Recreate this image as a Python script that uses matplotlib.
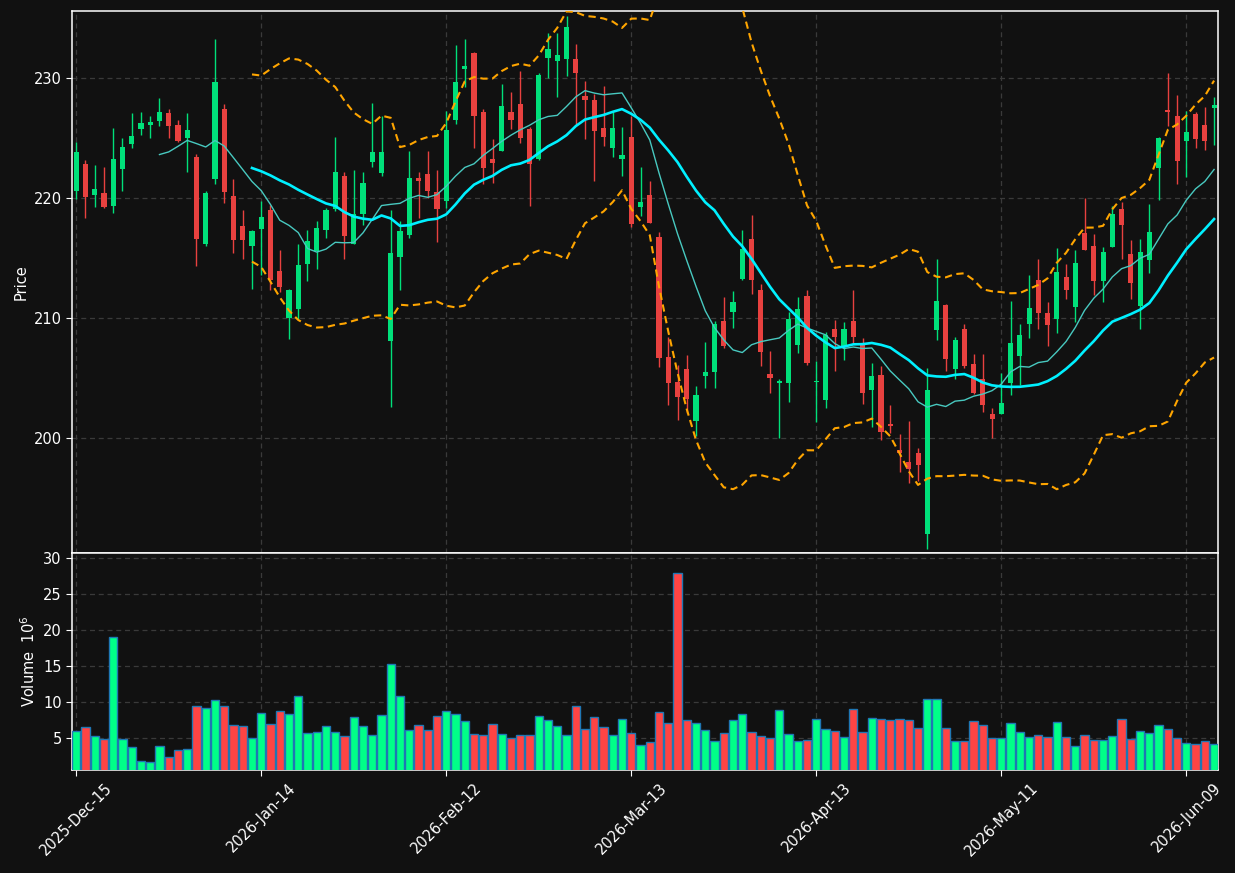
import pandas as pd
import numpy as np
import matplotlib
matplotlib.use("Agg")
import matplotlib.pyplot as plt

BG = "#111111"
UP_CANDLE = "#00e07a"
DOWN_CANDLE = "#e8413f"
UP_VOL = "#00ff88"
DOWN_VOL = "#ff4444"
VOL_EDGE = "#1f77b4"
GRID = "#3a3a3a"

# ── data (volumes in millions) ────────────────────────────────────────────────
opens = [
    220.55, 222.78, 220.23, 220.35, 219.30, 222.41, 224.43, 225.74, 226.03, 226.41,
    227.04, 226.03, 224.99, 223.36, 216.14, 221.57, 227.36, 220.12, 217.62, 215.97,
    217.39, 218.96, 213.86, 209.97, 210.72, 214.46, 215.54, 217.30, 219.04, 221.77,
    216.14, 218.61, 222.96, 222.06, 208.06, 215.01, 216.87, 221.62, 221.94, 220.43,
    219.71, 226.46, 230.72, 232.03, 227.13, 223.19, 223.88, 227.13, 227.80, 225.71,
    223.22, 231.65, 231.39, 231.57, 231.51, 228.46, 228.12, 225.80, 224.14, 223.22,
    225.04, 219.22, 220.20, 216.70, 206.70, 204.61, 205.68, 201.36, 205.13, 205.48,
    209.68, 210.46, 213.22, 216.58, 212.26, 205.33, 204.55, 204.55, 207.71, 211.83,
    204.65, 203.16, 209.01, 207.65, 209.68, 207.74, 203.97, 205.19, 201.10, 198.93,
    198.00, 198.67, 191.94, 208.96, 211.01, 205.71, 209.01, 206.09, 204.90, 201.94,
    201.97, 204.52, 206.78, 209.48, 213.10, 210.35, 209.88, 213.36, 210.90, 217.01,
    215.94, 213.04, 215.88, 219.01, 215.28, 210.96, 214.81, 222.46, 227.33, 226.78,
    224.72, 226.96, 226.03, 227.48,
]
highs = [
    224.61, 223.16, 222.75, 222.58, 225.77, 224.93, 227.01, 227.13, 226.84, 228.26,
    227.42, 226.49, 227.01, 223.59, 220.58, 233.19, 227.80, 221.51, 218.93, 217.30,
    219.74, 219.39, 215.62, 212.40, 216.17, 217.28, 218.03, 219.10, 225.01, 222.14,
    222.26, 222.17, 227.86, 226.78, 218.96, 218.06, 223.91, 222.12, 223.91, 222.26,
    227.22, 232.75, 233.25, 232.10, 227.42, 224.84, 229.48, 228.81, 230.55, 225.91,
    230.35, 233.68, 233.74, 235.10, 232.84, 229.68, 228.67, 229.33, 227.16, 225.91,
    226.78, 222.52, 221.42, 217.16, 208.38, 206.06, 206.90, 204.32, 208.00, 209.68,
    211.74, 212.20, 217.30, 218.58, 212.78, 207.22, 204.84, 210.43, 211.74, 212.32,
    206.41, 208.81, 209.83, 209.62, 212.32, 208.32, 206.23, 205.97, 202.72, 200.26,
    201.39, 199.16, 205.83, 214.84, 211.10, 208.38, 209.48, 206.99, 206.99, 202.43,
    205.39, 211.36, 209.48, 213.51, 214.90, 211.33, 215.83, 214.46, 215.65, 220.00,
    216.99, 215.91, 219.30, 219.59, 216.49, 216.58, 219.48, 225.04, 230.41, 228.58,
    227.22, 227.16, 227.51, 228.35,
]
lows = [
    219.91, 218.32, 219.22, 219.13, 218.72, 220.55, 224.17, 225.25, 224.99, 226.00,
    224.93, 224.67, 222.09, 214.32, 215.97, 221.10, 219.51, 215.42, 214.84, 212.35,
    213.51, 212.29, 212.14, 208.23, 209.88, 213.01, 214.06, 216.64, 218.87, 214.90,
    216.14, 217.74, 222.58, 221.77, 202.58, 212.26, 216.67, 218.32, 219.97, 216.26,
    219.10, 226.12, 229.25, 224.17, 221.16, 221.25, 223.88, 225.74, 224.58, 219.33,
    223.10, 230.00, 228.35, 230.17, 226.06, 224.90, 221.42, 224.26, 223.42, 221.77,
    217.57, 218.46, 217.88, 205.91, 202.67, 201.42, 202.06, 200.12, 204.12, 204.09,
    207.45, 209.10, 213.13, 211.97, 206.00, 203.68, 200.00, 202.93, 207.01, 206.06,
    201.33, 202.43, 205.57, 206.49, 207.86, 202.81, 200.90, 199.83, 200.41, 197.16,
    196.20, 196.35, 190.75, 208.17, 205.57, 204.90, 205.83, 203.65, 202.09, 200.00,
    201.97, 203.51, 204.38, 208.32, 209.01, 207.65, 208.72, 211.51, 209.62, 215.65,
    211.91, 211.33, 215.88, 214.90, 211.51, 209.01, 213.74, 219.83, 226.00, 221.16,
    221.68, 224.09, 224.00, 224.35,
]
closes = [
    223.77, 220.06, 220.70, 219.19, 223.19, 224.20, 225.10, 226.20, 226.32, 227.13,
    225.97, 224.72, 225.62, 216.55, 220.35, 229.62, 220.46, 216.46, 216.46, 217.19,
    218.35, 213.16, 212.52, 212.26, 214.35, 216.35, 217.45, 218.96, 222.12, 216.78,
    218.61, 221.19, 223.77, 223.77, 215.36, 217.19, 221.62, 221.39, 220.52, 219.04,
    225.62, 229.62, 230.96, 226.81, 222.43, 222.90, 227.62, 226.49, 224.99, 222.81,
    230.20, 232.38, 231.91, 234.20, 230.41, 228.14, 225.57, 225.07, 225.80, 223.54,
    217.80, 219.62, 217.88, 206.64, 204.55, 203.39, 203.22, 203.51, 205.48, 209.45,
    207.59, 211.33, 215.68, 213.13, 207.13, 204.96, 204.70, 209.86, 210.70, 206.20,
    204.72, 208.52, 208.38, 209.01, 208.38, 203.71, 205.16, 200.46, 200.93, 198.67,
    197.36, 197.71, 203.94, 211.36, 206.55, 208.17, 206.00, 203.74, 202.72, 201.51,
    202.84, 207.86, 208.52, 210.78, 210.35, 209.36, 213.77, 212.29, 214.52, 215.65,
    213.04, 215.45, 218.61, 217.71, 212.90, 215.45, 217.10, 224.96, 227.16, 223.07,
    225.45, 224.90, 224.72, 227.71,
]
volumes = [
    5.97, 6.53, 5.28, 4.91, 19.03, 4.86, 3.75, 1.81, 1.67, 3.89,
    2.36, 3.33, 3.47, 9.44, 9.17, 10.28, 9.44, 6.81, 6.67, 5.00,
    8.47, 6.94, 8.75, 8.33, 10.83, 5.69, 5.83, 6.67, 5.83, 5.28,
    7.92, 6.67, 5.42, 8.19, 15.28, 10.83, 6.11, 6.81, 6.11, 8.06,
    8.75, 8.33, 7.36, 5.56, 5.42, 6.94, 5.56, 5.00, 5.42, 5.42,
    8.06, 7.50, 6.67, 5.42, 9.44, 6.25, 7.92, 6.53, 5.42, 7.64,
    5.69, 4.03, 4.44, 8.61, 7.08, 27.92, 7.50, 7.08, 6.11, 4.58,
    5.69, 7.50, 8.33, 5.83, 5.28, 5.00, 8.89, 5.56, 4.58, 4.72,
    7.64, 6.25, 5.97, 5.14, 9.03, 5.83, 7.78, 7.64, 7.50, 7.64,
    7.50, 6.39, 10.42, 10.42, 6.39, 4.58, 4.58, 7.36, 6.81, 5.00,
    5.00, 7.08, 5.83, 5.14, 5.42, 5.14, 7.22, 5.14, 3.89, 5.42,
    4.72, 4.72, 5.28, 7.64, 4.86, 5.97, 5.69, 6.81, 6.25, 5.00,
    4.31, 4.17, 4.58, 4.17,
]
holidays = ["2025-12-25", "2026-01-01", "2026-01-19", "2026-02-16",
            "2026-04-03", "2026-05-25"]
dates = pd.bdate_range("2025-12-15", periods=len(closes), freq="C",
                       holidays=holidays)

df = pd.DataFrame({"Open": opens, "High": highs, "Low": lows,
                   "Close": closes, "Volume": volumes}, index=dates)

# indicators
df["ma10"] = df["Close"].rolling(10).mean()
df["ma20"] = df["Close"].rolling(20).mean()
sd20 = df["Close"].rolling(20).std(ddof=0)
df["bb_up"] = df["ma20"] + 2 * sd20
df["bb_lo"] = df["ma20"] - 2 * sd20

x = np.arange(len(df))
up = (df["Close"] >= df["Open"]).values

# ── figure ────────────────────────────────────────────────────────────────────
fig = plt.figure(figsize=(12.35, 8.73), dpi=100)
fig.patch.set_facecolor(BG)
ax = fig.add_axes([0.0585, 0.3662, 0.928, 0.6212])
axv = fig.add_axes([0.0585, 0.118, 0.928, 0.2482], sharex=ax)

for a in (ax, axv):
    a.set_facecolor(BG)
    for s in a.spines.values():
        s.set_color("white")
        s.set_linewidth(1.1)
    a.tick_params(colors="white", labelsize=10.5, length=4)
    a.grid(True, color=GRID, linestyle="--", linewidth=0.9, dashes=(4, 3))
    a.set_axisbelow(True)

# candles
ccol = np.where(up, UP_CANDLE, DOWN_CANDLE)
ax.vlines(x, df["Low"], df["High"], colors=ccol, linewidth=1.0, zorder=3)
body_lo = np.minimum(df["Open"], df["Close"])
body_h = np.maximum(np.abs(df["Close"] - df["Open"]), 0.08)
ax.bar(x, body_h, bottom=body_lo, width=0.55, color=ccol, linewidth=0,
       zorder=4)

# moving averages and bands
ax.plot(x, df["ma10"], color="#48c9c0", linewidth=1.0, zorder=5)
ax.plot(x, df["ma20"], color="#00f0ff", linewidth=1.9, zorder=5)
ax.plot(x, df["bb_up"], color="#ffa500", linewidth=1.5, linestyle="--",
        dashes=(3.5, 2.2), zorder=5)
ax.plot(x, df["bb_lo"], color="#ffa500", linewidth=1.5, linestyle="--",
        dashes=(3.5, 2.2), zorder=5)

ax.set_ylim(190.35, 235.55)
ax.set_yticks([200, 210, 220, 230])
ax.set_ylabel("Price", color="white", fontsize=10.5)
plt.setp(ax.get_xticklabels(), visible=False)

# volume
vcol = np.where(up, UP_VOL, DOWN_VOL)
axv.bar(x, df["Volume"], width=0.9, color=vcol, edgecolor=VOL_EDGE,
        linewidth=1.0, zorder=3)
axv.set_ylim(0.6, 30.7)
axv.set_yticks([5, 10, 15, 20, 25, 30])
axv.set_ylabel("Volume  $10^6$", color="white", fontsize=10.5)

tick_idx = list(range(0, len(df), 20))
axv.set_xticks(tick_idx)
axv.set_xticklabels([dates[i].strftime("%Y-%b-%d") for i in tick_idx],
                    rotation=45, ha="center")
axv.set_xlim(-0.43, len(df) - 0.54)

fig.savefig("out.png", dpi=100, facecolor=BG)
